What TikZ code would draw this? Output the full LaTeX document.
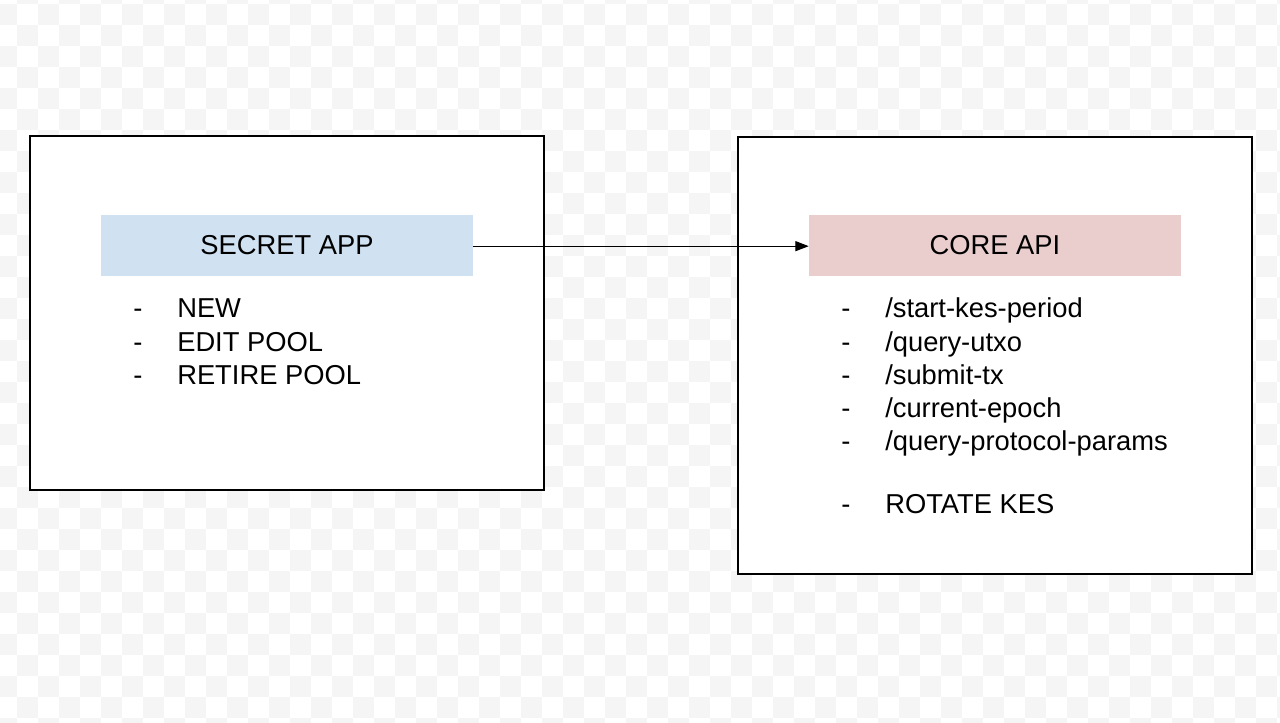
\documentclass[tikz,border=0pt]{standalone}
\usepackage{fontspec}
\setmainfont{Liberation Sans}
\usetikzlibrary{arrows.meta}
\definecolor{checkgray}{RGB}{245,245,245}
\definecolor{appblue}{RGB}{208,225,242}
\definecolor{apired}{RGB}{234,205,205}
\tikzset{
  bigbox/.style={draw=black, line width=1.1pt, inner sep=0pt, minimum width=385.5pt},
  titlebox/.style={inner sep=0pt, minimum width=279pt, minimum height=45.75pt, font=\fontsize{20.5pt}{24pt}\selectfont},
  item/.style={inner sep=0pt, anchor=base west, font=\fontsize{20.5pt}{24pt}\selectfont},
  conn/.style={line width=0.8pt, -{Triangle[length=10pt,width=7.5pt]}}
}
\begin{document}
\begin{tikzpicture}[x=0.75pt,y=-0.75pt]
\useasboundingbox (0,0) rectangle (1280,723);
\clip (0,0) rectangle (1280,723);
\fill[white] (0,0) rectangle (1280,723);
\foreach \i in {0,...,61}{
  \foreach \j in {0,...,35}{
    \pgfmathparse{int(mod(\i+\j,2))}
    \ifnum\pgfmathresult=1
      \fill[checkgray] ({-4+21*\i},{-17+21*\j}) rectangle ++(21,21);
    \fi
  }
}
% left box
\node[bigbox, minimum height=265.5pt, fill=white] (left) at (287,313) {};
\node[titlebox, fill=appblue] (secret) at (287,245.5) {SECRET APP};
\node[item] (ld1) at (133,318) {-};
\node[item] (lt1) at (177,318) {NEW};
\node[item] (ld2) at (133,351) {-};
\node[item] (lt2) at (177,351) {EDIT POOL};
\node[item] (ld3) at (133,384) {-};
\node[item] (lt3) at (177,384) {RETIRE POOL};
% right box
\node[bigbox, minimum height=327.75pt, fill=white] (right) at (995,355.5) {};
\node[titlebox, fill=apired] (core) at (995,245.5) {CORE API};
\node[item] (rd1) at (841,318) {-};
\node[item] (rt1) at (885,318) {/start-kes-period};
\node[item] (rd2) at (841,351) {-};
\node[item] (rt2) at (885,351) {/query-utxo};
\node[item] (rd3) at (841,384) {-};
\node[item] (rt3) at (885,384) {/submit-tx};
\node[item] (rd4) at (841,417) {-};
\node[item] (rt4) at (885,417) {/current-epoch};
\node[item] (rd5) at (841,450) {-};
\node[item] (rt5) at (885,450) {/query-protocol-params};
\node[item] (rd6) at (841,513) {-};
\node[item] (rt6) at (885,513) {ROTATE KES};
% connector
\draw[conn] ([yshift=-0.5pt]secret.east) -- ([yshift=-0.5pt]core.west);
\end{tikzpicture}
\end{document}
